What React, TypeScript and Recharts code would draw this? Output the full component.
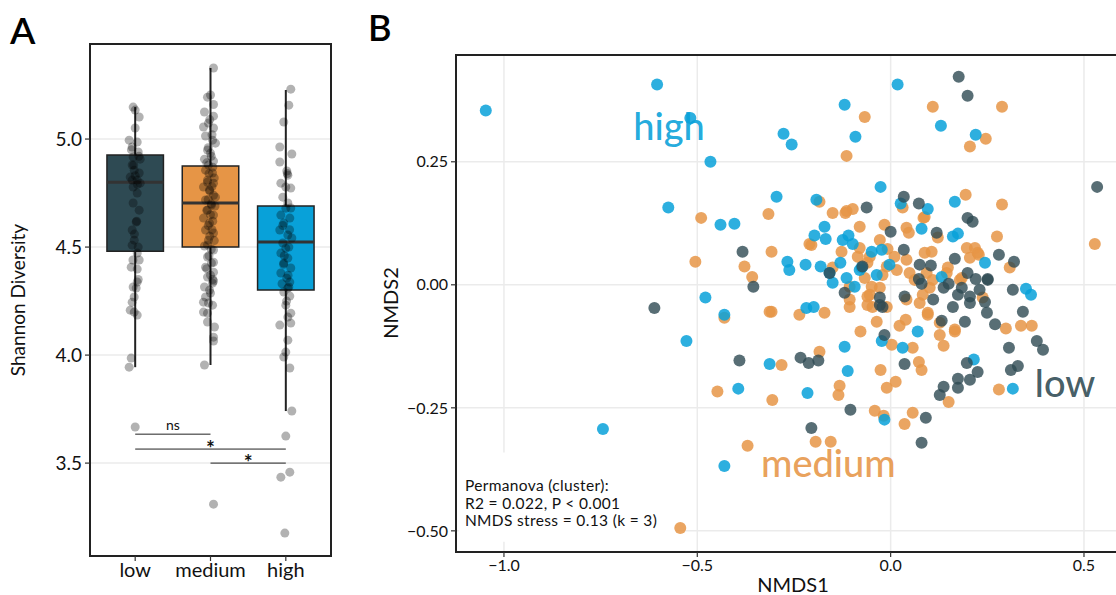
import React from 'react';
import { ComposedChart, Scatter, XAxis, YAxis, CartesianGrid, ReferenceArea, ReferenceLine } from 'recharts';

const FONT = "Lato, 'DejaVu Sans', sans-serif";

// ---------- Panel A data ----------
const categories = ['low', 'medium', 'high'];
const boxColors = ['#2E4A53', '#E69546', '#08A1D9'];
const q1 = [4.481, 4.5, 4.301];
const median = [4.8, 4.704, 4.523];
const q3 = [4.926, 4.875, 4.69];
const whiskerLow = [3.944, 3.954, 3.741];
const whiskerHigh = [5.148, 5.329, 5.227];
const yTicksA = [3.5, 4.0, 4.5, 5.0];

const lowJitter: [number, number][] = [
  [0.973, 5.148], [1.0, 5.134], [1.053, 5.102], [1.0, 5.051], [0.92, 4.995], [1.027, 4.986], [0.96, 4.963],
  [1.04, 4.94], [0.973, 4.917], [1.066, 4.907], [0.96, 4.88], [0.987, 4.856], [1.053, 4.843], [0.934, 4.824],
  [1.027, 4.81], [1.066, 4.796], [0.973, 4.778], [1.027, 4.75], [0.973, 4.704], [1.053, 4.671], [1.013, 4.616],
  [0.96, 4.579], [0.987, 4.532], [0.96, 4.509], [1.027, 4.472], [1.053, 4.44], [0.947, 4.407], [1.027, 4.398],
  [1.027, 4.338], [0.973, 4.315], [0.987, 4.269], [1.04, 4.35], [1.013, 4.31], [0.96, 4.245], [0.934, 4.208],
  [0.987, 4.199], [1.027, 4.185], [0.947, 3.986], [0.92, 3.944], [1.0, 3.667],
  [1.0, 4.83], [0.96, 4.81], [1.03, 4.79], [0.98, 4.88], [1.05, 4.92], [0.95, 4.95], [1.02, 4.62], [0.99, 4.56],
  [1.04, 4.5], [0.97, 4.44],
];
const mediumJitter: [number, number][] = [
  [2.04, 5.329], [2.0, 5.204], [1.96, 5.194], [1.92, 5.125], [2.04, 5.106], [1.973, 5.074], [1.907, 5.056],
  [2.04, 5.051], [1.934, 5.014], [2.027, 4.995], [2.066, 4.981], [1.96, 4.949], [2.0, 4.935], [1.92, 4.907],
  [2.04, 4.898], [1.973, 4.88], [1.934, 4.856], [2.027, 4.843], [1.96, 4.81], [2.04, 4.796], [1.907, 4.778],
  [1.987, 4.764], [2.066, 4.731], [1.934, 4.718], [2.013, 4.694], [1.96, 4.671], [2.04, 4.648], [1.907, 4.634],
  [1.987, 4.611], [1.934, 4.579], [2.04, 4.565], [1.973, 4.532], [1.92, 4.505], [2.04, 4.486], [1.96, 4.454],
  [2.013, 4.426], [1.934, 4.407], [2.04, 4.384], [1.96, 4.361], [2.027, 4.333], [1.92, 4.315], [2.0, 4.287],
  [2.04, 4.343], [1.987, 4.301], [1.934, 4.269], [1.907, 4.245], [1.973, 4.241], [2.027, 4.231], [1.907, 4.199],
  [1.96, 4.194], [1.96, 4.153], [2.053, 4.13], [2.04, 4.083], [2.04, 4.065], [1.92, 3.954], [2.04, 3.31],
  [2.01, 4.92], [1.95, 4.89], [2.03, 4.87], [1.98, 4.84], [2.05, 4.82], [1.96, 4.8], [2.02, 4.78], [1.99, 4.76],
  [2.04, 4.74], [1.97, 4.72], [2.01, 4.7], [2.06, 4.69], [1.95, 4.67], [2.0, 4.65], [2.03, 4.62], [1.97, 4.6],
  [2.02, 4.58], [1.99, 4.55], [2.05, 4.53], [1.96, 4.51], [2.01, 4.49], [1.98, 4.46], [2.04, 4.43], [1.95, 4.4],
  [2.0, 4.37], [2.03, 4.35], [1.97, 4.96], [2.02, 5.02], [1.99, 5.09], [2.04, 5.16],
];
const highJitter: [number, number][] = [
  [3.066, 5.231], [3.04, 5.157], [2.973, 5.079], [2.92, 4.963], [3.08, 4.931], [2.92, 4.894], [3.013, 4.852],
  [3.027, 4.833], [2.934, 4.796], [3.0, 4.778], [3.066, 4.773], [2.96, 4.731], [3.027, 4.704], [3.066, 4.681],
  [2.934, 4.648], [3.053, 4.634], [2.973, 4.611], [2.92, 4.579], [3.027, 4.556], [3.08, 4.542], [2.96, 4.519],
  [3.0, 4.495], [2.934, 4.472], [3.027, 4.449], [2.973, 4.426], [3.066, 4.403], [2.934, 4.38], [3.013, 4.356],
  [3.04, 4.315], [2.973, 4.292], [3.053, 4.338], [3.027, 4.31], [3.053, 4.273], [3.0, 4.231], [3.066, 4.194],
  [3.027, 4.176], [2.92, 4.139], [3.066, 4.148], [3.027, 4.069], [3.0, 4.014], [2.973, 3.991], [3.053, 3.94],
  [3.08, 3.741], [3.0, 3.625], [2.934, 3.435], [3.053, 3.458], [2.987, 3.176],
  [3.0, 4.68], [2.96, 4.6], [3.04, 4.5], [2.98, 4.46], [3.03, 4.37], [2.95, 4.33], [3.01, 4.25], [2.97, 4.42],
  [3.05, 4.58], [3.02, 4.84],
];
const sigBars = [
  { from: 1, to: 2, y: 3.634, label: 'ns' },
  { from: 1, to: 3, y: 3.565, label: '*' },
  { from: 2, to: 3, y: 3.5, label: '*' },
];

// ---------- Panel B data ----------
const groupColors = { low: '#2E4A53', medium: '#E69546', high: '#08A1D9' };
const xTicksB = [-1.0, -0.5, 0.0, 0.5];
const yTicksB = [-0.5, -0.25, 0.0, 0.25];

const highNMDS: [number, number][] = [
  [-1.047, 0.354], [-0.604, 0.407], [-0.518, 0.339], [-0.466, 0.25], [-0.575, 0.157], [-0.44, 0.122], [-0.404, 0.124],
  [-0.277, 0.307], [-0.256, 0.285], [-0.119, 0.366], [-0.091, 0.301], [0.018, 0.407], [0.13, 0.323], [0.22, 0.305],
  [-0.295, 0.179], [-0.192, 0.173], [-0.026, 0.199], [0.026, 0.165], [0.096, 0.154], [0.166, 0.169], [0.08, 0.114],
  [-0.171, 0.118], [-0.197, 0.1], [-0.168, 0.093], [0.161, 0.098], [0.174, 0.104], [-0.124, 0.091], [-0.109, 0.1],
  [-0.098, 0.083], [-0.267, 0.047], [-0.262, 0.03], [-0.22, 0.041], [-0.181, 0.037], [-0.13, 0.045], [-0.158, 0.024],
  [-0.15, 0.004], [-0.114, 0.014], [-0.08, 0.03], [-0.049, 0.067], [-0.023, 0.071], [-0.003, 0.041], [-0.036, 0.02],
  [0.132, 0.016], [0.244, 0.045], [0.35, -0.008], [0.363, -0.02], [-0.093, -0.004], [-0.218, -0.047], [-0.199, -0.045],
  [-0.479, -0.026], [-0.43, -0.061], [-0.528, -0.114], [-0.394, -0.211], [-0.744, -0.293], [-0.43, -0.368],
  [-0.313, -0.161], [-0.119, -0.126], [-0.111, -0.175], [-0.215, -0.22], [-0.016, -0.274], [-0.023, -0.114],
  [0.031, -0.128], [0.07, -0.095], [0.215, -0.152], [0.316, -0.211], [-0.075, 0.035],
];
const lowNMDS: [number, number][] = [
  [0.176, 0.423], [0.199, 0.384], [0.534, 0.199], [-0.062, 0.157], [0.034, 0.179], [0.073, 0.165], [0.0, 0.108],
  [0.119, 0.106], [0.199, 0.136], [0.212, 0.128], [0.034, 0.071], [0.166, 0.053], [0.28, 0.061], [0.319, 0.047],
  [0.075, 0.041], [0.104, 0.039], [0.199, 0.024], [0.22, 0.012], [0.251, 0.012], [0.316, -0.01], [0.073, 0.012],
  [0.08, 0.002], [0.036, -0.024], [0.137, -0.006], [0.174, -0.02], [0.205, -0.024], [0.161, -0.045], [0.244, -0.035],
  [0.342, -0.055], [-0.355, -0.004], [-0.383, 0.067], [-0.119, -0.016], [-0.028, -0.026], [-0.021, -0.045],
  [0.249, -0.057], [-0.611, -0.047], [-0.391, -0.154], [-0.016, -0.102], [0.036, -0.161], [0.091, -0.27],
  [0.08, -0.321], [-0.104, -0.254], [-0.205, -0.291], [-0.233, -0.148], [-0.212, -0.159], [-0.187, -0.154],
  [0.137, -0.207], [0.127, -0.224], [0.174, -0.191], [0.174, -0.209], [0.205, -0.193], [0.197, -0.159],
  [0.225, -0.177], [0.306, -0.128], [0.311, -0.173], [0.329, -0.165], [0.378, -0.114], [0.394, -0.132],
  [0.192, -0.075], [0.132, -0.073], [0.205, -0.037], [-0.028, -0.041], [0.251, 0.01], [-0.158, 0.024],
  [-0.073, 0.037], [0.184, -0.006], [0.15, 0.002], [0.11, -0.03], [0.23, -0.01], [0.27, -0.08],
];
const mediumNMDS: [number, number][] = [
  [0.109, 0.362], [0.288, 0.362], [-0.067, 0.341], [0.205, 0.281], [0.246, 0.297], [-0.114, 0.262],
  [0.194, 0.183], [0.288, 0.163], [0.528, 0.083], [-0.316, 0.144], [-0.184, 0.169], [-0.15, 0.146], [-0.114, 0.15],
  [-0.098, 0.154], [-0.08, 0.118], [-0.016, 0.122], [0.031, 0.157], [0.041, 0.116], [0.047, 0.106], [0.085, 0.136],
  [0.122, 0.096], [0.275, 0.098], [-0.308, 0.067], [-0.21, 0.083], [-0.127, 0.067], [-0.085, 0.057], [-0.028, 0.091],
  [-0.008, 0.073], [0.01, 0.057], [0.041, 0.051], [0.088, 0.065], [0.106, 0.067], [0.197, 0.075], [0.218, 0.075],
  [0.225, 0.065], [0.205, 0.055], [0.308, 0.035], [-0.378, 0.037], [-0.358, 0.016], [-0.308, -0.055],
  [-0.236, -0.061], [-0.171, -0.057], [-0.106, -0.045], [-0.06, 0.045], [-0.01, 0.037], [0.016, 0.03], [0.049, 0.024],
  [0.062, 0.01], [0.093, 0.024], [0.109, 0.01], [0.145, 0.024], [0.179, 0.01], [0.238, -0.026], [-0.049, -0.004],
  [-0.06, -0.024], [-0.047, -0.045], [-0.01, -0.045], [0.041, -0.03], [0.075, -0.037], [0.096, -0.057], [-0.106, -0.03],
  [-0.49, 0.136], [-0.505, 0.047], [-0.43, -0.067], [-0.448, -0.217], [-0.544, -0.494], [-0.37, -0.327],
  [-0.313, -0.055], [-0.306, -0.234], [-0.282, -0.163], [-0.184, -0.136], [-0.132, -0.205], [-0.135, -0.224],
  [-0.041, -0.256], [-0.026, -0.173], [-0.01, -0.209], [0.013, -0.197], [0.057, -0.26], [0.036, -0.283],
  [0.073, -0.157], [0.08, -0.173], [0.057, -0.128], [0.003, -0.122], [0.023, -0.083], [-0.078, -0.095],
  [0.137, -0.124], [0.15, -0.238], [0.28, -0.213], [0.298, -0.089], [0.337, -0.083], [0.365, -0.083],
  [-0.194, -0.319], [-0.155, -0.319], [0.127, -0.077], [0.166, -0.091], [-0.036, -0.075], [0.039, -0.071],
  [0.096, -0.061], [0.166, -0.095], [0.127, -0.102], [0.088, 0.138], [0.228, 0.061], [0.148, 0.035], [0.184, 0.014],
  [0.101, -0.006], [0.083, -0.02], [-0.117, 0.146], [-0.205, 0.081], [-0.08, 0.075], [-0.054, 0.057], [-0.15, 0.035],
  [-0.106, -0.004], [-0.067, 0.014], [-0.021, 0.02], [-0.054, -0.02], [-0.028, -0.006], [-0.06, -0.041],
  [-0.018, -0.266],
];
const groupLabels = [
  { x: -0.573, y: 0.295, label: 'high', group: 'high' },
  { x: -0.161, y: -0.39, label: 'medium', group: 'medium' },
  { x: 0.451, y: -0.228, label: 'low', group: 'low' },
];
const annotationLines = ['Permanova (cluster):', 'R2 = 0.022, P < 0.001', 'NMDS stress = 0.13 (k = 3)'];
const annotationYs = [-0.419, -0.455, -0.491];
const annotationX = -1.101;

const toXY = (arr: [number, number][]) => arr.map(([x, y]) => ({ x, y }));
const minus = (s: string) => s.replace('-', '\u2212');

const dot = (r: number, fill: string, opacity: number) => (p: any) =>
  p.cx == null ? <g /> : <circle cx={p.cx} cy={p.cy} r={r} fill={fill} fillOpacity={opacity} />;

const tickStyle = (size: number) => ({ fill: '#111', fontSize: size, fontFamily: FONT });

const PanelA = () => {
  const yDom: [number, number] = [3.07, 5.44];
  return (
    <ComposedChart width={340} height={595} margin={{ top: 44, right: 9, bottom: 9, left: 40 }}>
      <CartesianGrid vertical={false} stroke="#EBEBEB" strokeWidth={1.5} />
      <XAxis type="number" dataKey="x" domain={[0.4, 3.6]} ticks={[1, 2, 3]} allowDataOverflow
        tickFormatter={(v: number) => categories[v - 1]} height={30} tickSize={5} tickMargin={2}
        axisLine={false} tickLine={{ stroke: '#333', strokeWidth: 1.2 }} tick={tickStyle(20)} />
      <YAxis type="number" dataKey="y" domain={yDom} ticks={yTicksA} allowDataOverflow
        tickFormatter={(v: number) => v.toFixed(1)} width={50} tickSize={5} tickMargin={3}
        axisLine={false} tickLine={{ stroke: '#333', strokeWidth: 1.2 }} tick={tickStyle(19)} />
      {categories.map((c, i) => (
        <ReferenceArea key={'box' + c} x1={i + 1 - 0.375} x2={i + 1 + 0.375} y1={q1[i]} y2={q3[i]}
          fill={boxColors[i]} fillOpacity={1} stroke="#222" strokeWidth={1.5} />
      ))}
      <ReferenceArea x1={0.4} x2={3.6} y1={yDom[0]} y2={yDom[1]} fill="none" stroke="#222" strokeWidth={2} />
      {categories.map((c, i) => (
        <ReferenceLine key={'wl' + c} segment={[{ x: i + 1, y: whiskerLow[i] }, { x: i + 1, y: q1[i] }]}
          stroke="#222" strokeWidth={2} />
      ))}
      {categories.map((c, i) => (
        <ReferenceLine key={'wh' + c} segment={[{ x: i + 1, y: q3[i] }, { x: i + 1, y: whiskerHigh[i] }]}
          stroke="#222" strokeWidth={2} />
      ))}
      {categories.map((c, i) => (
        <ReferenceLine key={'md' + c} segment={[{ x: i + 1 - 0.375, y: median[i] }, { x: i + 1 + 0.375, y: median[i] }]}
          stroke="#333" strokeWidth={3} />
      ))}
      {sigBars.map((s, i) => (
        <ReferenceLine key={'sig' + i} segment={[{ x: s.from, y: s.y }, { x: s.to, y: s.y }]} stroke="#222" strokeWidth={1} />
      ))}
      <Scatter data={toXY(lowJitter)} isAnimationActive={false} shape={dot(4.5, '#000', 0.3)} />
      <Scatter data={toXY(mediumJitter)} isAnimationActive={false} shape={dot(4.5, '#000', 0.3)} />
      <Scatter data={toXY(highJitter)} isAnimationActive={false} shape={dot(4.5, '#000', 0.3)} />
      <Scatter data={sigBars.map((s) => ({ x: (s.from + s.to) / 2, y: s.y, label: s.label }))} isAnimationActive={false}
        shape={(p: any) => p.cx == null ? <g /> : (
          <text x={p.cx} y={p.payload.label === 'ns' ? p.cy - 4 : p.cy + 7} textAnchor="middle"
            fontFamily={FONT} fontSize={p.payload.label === 'ns' ? 14 : 21} fontWeight={p.payload.label === 'ns' ? 400 : 700}
            fill="#111">{p.payload.label}</text>
        )} />
    </ComposedChart>
  );
};

const PanelB = () => {
  const xDom: [number, number] = [-1.124, 0.619];
  const yDom: [number, number] = [-0.543, 0.467];
  return (
    <ComposedChart width={800} height={595} margin={{ top: 55, right: 10, bottom: 13, left: 66 }}>
      <CartesianGrid stroke="#EBEBEB" strokeWidth={1.5} />
      <XAxis type="number" dataKey="x" domain={xDom} ticks={xTicksB} allowDataOverflow
        tickFormatter={(v: number) => minus(v.toFixed(1))} height={30} tickSize={5} tickMargin={3}
        axisLine={false} tickLine={{ stroke: '#333', strokeWidth: 1.2 }} tick={tickStyle(16)} />
      <YAxis type="number" dataKey="y" domain={yDom} ticks={yTicksB} allowDataOverflow
        tickFormatter={(v: number) => minus(v.toFixed(2))} width={50} tickSize={5} tickMargin={3}
        axisLine={false} tickLine={{ stroke: '#333', strokeWidth: 1.2 }} tick={tickStyle(16)} />
      <ReferenceArea x1={-1.117} x2={-0.557} y1={-0.522} y2={-0.341} fill="#fff" fillOpacity={1} stroke="none" />
      <ReferenceArea x1={xDom[0]} x2={xDom[1]} y1={yDom[0]} y2={yDom[1]} fill="none" stroke="#222" strokeWidth={2} />
      <Scatter data={annotationLines.map((l, i) => ({ x: annotationX, y: annotationYs[i], label: l }))} isAnimationActive={false}
        shape={(p: any) => p.cx == null ? <g /> : (
          <text x={p.cx} y={p.cy} fontFamily={FONT} fontSize={15.5} letterSpacing={0.35} fill="#111">{p.payload.label}</text>
        )} />
      <Scatter data={toXY(mediumNMDS)} isAnimationActive={false} shape={dot(6, groupColors.medium, 0.85)} />
      <Scatter data={toXY(highNMDS)} isAnimationActive={false} shape={dot(6, groupColors.high, 0.85)} />
      <Scatter data={toXY(lowNMDS)} isAnimationActive={false} shape={dot(6, groupColors.low, 0.8)} />
      <Scatter data={groupLabels} isAnimationActive={false}
        shape={(p: any) => p.cx == null ? <g /> : (
          <text x={p.cx} y={p.cy} textAnchor="middle" fontFamily={FONT} fontSize={38} fontWeight={500}
            fill={(groupColors as any)[p.payload.group]} fillOpacity={0.9}>{p.payload.label}</text>
        )} />
    </ComposedChart>
  );
};

export default function App() {
  return (
    <div style={{ position: 'absolute', left: 0, top: 0, width: 1116, height: 595, overflow: 'hidden', background: '#fff' }}>
      <div style={{ position: 'absolute', left: 0, top: 0 }}><PanelA /></div>
      <div style={{ position: 'absolute', left: 340, top: 0 }}><PanelB /></div>
      <svg width={1116} height={595} style={{ position: 'absolute', left: 0, top: 0, pointerEvents: 'none' }}>
        <text x={10} y={44} fontFamily={FONT} fontSize={37} fontWeight={600} fill="#000">A</text>
        <text x={368} y={41} fontFamily={FONT} fontSize={36} fontWeight={600} fill="#000">B</text>
        <text transform="translate(25,300) rotate(-90)" textAnchor="middle" fontFamily={FONT} fontSize={19} fill="#111">Shannon Diversity</text>
        <text transform="translate(398,303) rotate(-90)" textAnchor="middle" fontFamily={FONT} fontSize={20} fill="#111">NMDS2</text>
        <text x={793} y={592} textAnchor="middle" fontFamily={FONT} fontSize={20} fill="#111">NMDS1</text>
      </svg>
    </div>
  );
}
